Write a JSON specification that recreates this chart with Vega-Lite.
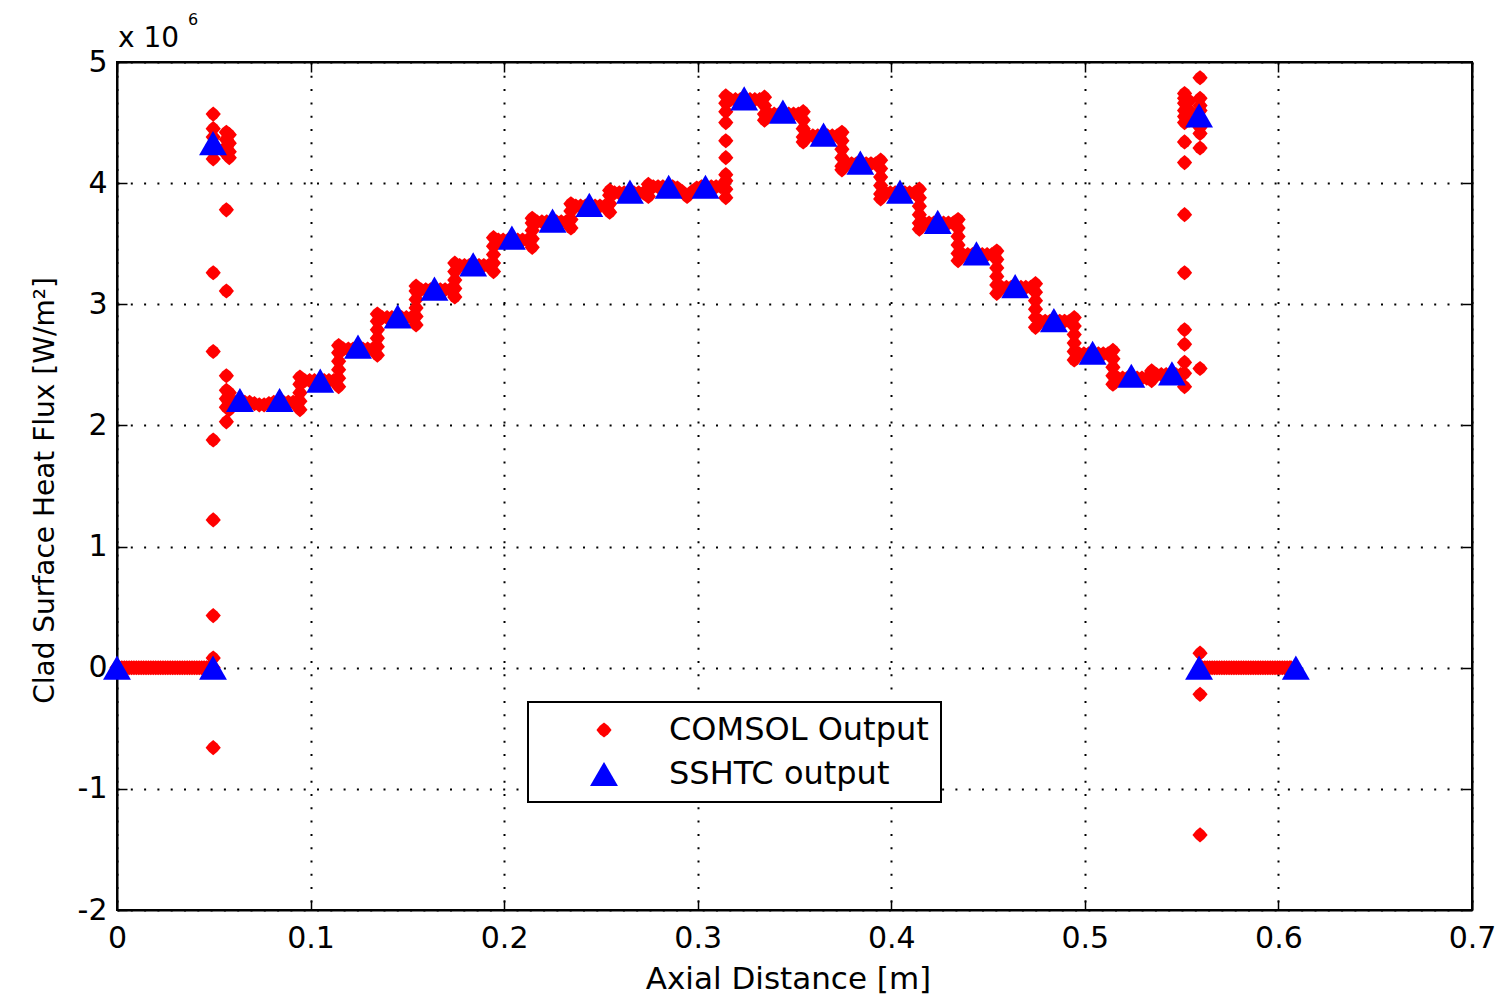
{
"$schema":"https://vega.github.io/schema/vega-lite/v6.json",
"width":1355,"height":848,
"autosize":{"type":"none"},
"padding":{"left":117,"top":62,"right":27,"bottom":85},
"background":"white",
"config":{
 "view":{"stroke":"black","strokeWidth":2},
 "font":"DejaVu Sans",
 "axis":{"domainColor":"black","domainWidth":2,"tickColor":"black","tickWidth":1.5,"tickSize":-10,"labelColor":"black","labelFont":"DejaVu Sans","labelFontSize":30,"labelFlush":false,"labelOverlap":false,"titleFont":"DejaVu Sans","titleFontWeight":"normal","titleColor":"black","gridColor":"black","gridWidth":2,"gridDash":[2,11.3],"gridOpacity":1},
 "legend":{"orient":"none","legendX":411,"legendY":640,"strokeColor":"black","strokeWidth":2,"fillColor":"white","padding":12,"labelFont":"DejaVu Sans","labelFontSize":32,"labelColor":"black","labelLimit":500,"symbolOffset":48,"labelOffset":49,"rowPadding":12,"symbolStrokeWidth":0}
},
"data":{"values":[
{"s":"C","x":0,"y":0},{"s":"C","x":0.0025,"y":0},{"s":"C","x":0.005,"y":0},{"s":"C","x":0.0075,"y":0},{"s":"C","x":0.01,"y":0},{"s":"C","x":0.0125,"y":0},{"s":"C","x":0.015,"y":0},{"s":"C","x":0.0175,"y":0},{"s":"C","x":0.02,"y":0},{"s":"C","x":0.0225,"y":0},{"s":"C","x":0.025,"y":0},{"s":"C","x":0.0275,"y":0},{"s":"C","x":0.03,"y":0},{"s":"C","x":0.0325,"y":0},{"s":"C","x":0.035,"y":0},{"s":"C","x":0.0375,"y":0},{"s":"C","x":0.04,"y":0},{"s":"C","x":0.0425,"y":0},{"s":"C","x":0.045,"y":0},{"s":"C","x":0.0475,"y":0},
{"s":"C","x":0.00125,"y":0},{"s":"C","x":0.00375,"y":0},{"s":"C","x":0.00625,"y":0},{"s":"C","x":0.00875,"y":0},{"s":"C","x":0.01125,"y":0},{"s":"C","x":0.01375,"y":0},{"s":"C","x":0.01625,"y":0},{"s":"C","x":0.01875,"y":0},{"s":"C","x":0.02125,"y":0},{"s":"C","x":0.02375,"y":0},{"s":"C","x":0.02625,"y":0},{"s":"C","x":0.02875,"y":0},{"s":"C","x":0.03125,"y":0},{"s":"C","x":0.03375,"y":0},{"s":"C","x":0.03625,"y":0},{"s":"C","x":0.03875,"y":0},{"s":"C","x":0.04125,"y":0},{"s":"C","x":0.04375,"y":0},{"s":"C","x":0.04625,"y":0},{"s":"C","x":0.04875,"y":0},
{"s":"C","x":0.0497,"y":4.57},{"s":"C","x":0.0497,"y":4.45},{"s":"C","x":0.0497,"y":4.38},{"s":"C","x":0.0497,"y":4.32},{"s":"C","x":0.0497,"y":4.27},{"s":"C","x":0.0497,"y":4.2},{"s":"C","x":0.0497,"y":3.26},{"s":"C","x":0.0497,"y":2.61},{"s":"C","x":0.0497,"y":1.88},{"s":"C","x":0.0497,"y":1.22},{"s":"C","x":0.0497,"y":0.43},{"s":"C","x":0.0497,"y":0.08},{"s":"C","x":0.0497,"y":0},{"s":"C","x":0.0497,"y":-0.66},
{"s":"C","x":0.0565,"y":4.42},{"s":"C","x":0.0565,"y":4.36},{"s":"C","x":0.0565,"y":4.3},{"s":"C","x":0.0565,"y":4.24},{"s":"C","x":0.0565,"y":3.78},{"s":"C","x":0.0565,"y":3.11},{"s":"C","x":0.0565,"y":2.41},{"s":"C","x":0.0565,"y":2.29},{"s":"C","x":0.0565,"y":2.22},{"s":"C","x":0.0565,"y":2.15},{"s":"C","x":0.0565,"y":2.03},
{"s":"C","x":0.058,"y":4.4},{"s":"C","x":0.058,"y":4.33},{"s":"C","x":0.058,"y":4.26},{"s":"C","x":0.058,"y":4.21},{"s":"C","x":0.058,"y":2.27},{"s":"C","x":0.058,"y":2.19},{"s":"C","x":0.058,"y":2.13},
{"s":"C","x":0.061,"y":2.19},{"s":"C","x":0.0635,"y":2.19},{"s":"C","x":0.066,"y":2.19},{"s":"C","x":0.0685,"y":2.19},{"s":"C","x":0.071,"y":2.18},{"s":"C","x":0.0735,"y":2.17},{"s":"C","x":0.076,"y":2.17},{"s":"C","x":0.0785,"y":2.18},{"s":"C","x":0.081,"y":2.19},{"s":"C","x":0.0835,"y":2.19},{"s":"C","x":0.086,"y":2.19},{"s":"C","x":0.0885,"y":2.19},{"s":"C","x":0.091,"y":2.19},{"s":"C","x":0.0925,"y":2.19},
{"s":"C","x":0.0945,"y":2.13},{"s":"C","x":0.0945,"y":2.2},{"s":"C","x":0.0945,"y":2.27},{"s":"C","x":0.0945,"y":2.34},{"s":"C","x":0.0945,"y":2.4},
{"s":"C","x":0.097,"y":2.37},{"s":"C","x":0.0995,"y":2.37},{"s":"C","x":0.102,"y":2.37},{"s":"C","x":0.1045,"y":2.37},{"s":"C","x":0.107,"y":2.37},{"s":"C","x":0.1095,"y":2.37},{"s":"C","x":0.112,"y":2.37},
{"s":"C","x":0.1145,"y":2.32},{"s":"C","x":0.1145,"y":2.39},{"s":"C","x":0.1145,"y":2.46},{"s":"C","x":0.1145,"y":2.53},{"s":"C","x":0.1145,"y":2.6},{"s":"C","x":0.1145,"y":2.66},
{"s":"C","x":0.117,"y":2.63},{"s":"C","x":0.1195,"y":2.63},{"s":"C","x":0.122,"y":2.63},{"s":"C","x":0.1245,"y":2.63},{"s":"C","x":0.127,"y":2.63},{"s":"C","x":0.1295,"y":2.63},{"s":"C","x":0.132,"y":2.63},
{"s":"C","x":0.1345,"y":2.58},{"s":"C","x":0.1345,"y":2.65},{"s":"C","x":0.1345,"y":2.72},{"s":"C","x":0.1345,"y":2.79},{"s":"C","x":0.1345,"y":2.86},{"s":"C","x":0.1345,"y":2.92},
{"s":"C","x":0.137,"y":2.89},{"s":"C","x":0.1395,"y":2.89},{"s":"C","x":0.142,"y":2.89},{"s":"C","x":0.1445,"y":2.89},{"s":"C","x":0.147,"y":2.89},{"s":"C","x":0.1495,"y":2.89},{"s":"C","x":0.152,"y":2.89},
{"s":"C","x":0.1545,"y":2.83},{"s":"C","x":0.1545,"y":2.9},{"s":"C","x":0.1545,"y":2.97},{"s":"C","x":0.1545,"y":3.04},{"s":"C","x":0.1545,"y":3.11},{"s":"C","x":0.1545,"y":3.15},
{"s":"C","x":0.157,"y":3.12},{"s":"C","x":0.1595,"y":3.12},{"s":"C","x":0.162,"y":3.12},{"s":"C","x":0.1645,"y":3.12},{"s":"C","x":0.167,"y":3.12},{"s":"C","x":0.1695,"y":3.12},{"s":"C","x":0.172,"y":3.12},
{"s":"C","x":0.1745,"y":3.06},{"s":"C","x":0.1745,"y":3.13},{"s":"C","x":0.1745,"y":3.2},{"s":"C","x":0.1745,"y":3.27},{"s":"C","x":0.1745,"y":3.34},
{"s":"C","x":0.177,"y":3.32},{"s":"C","x":0.1795,"y":3.32},{"s":"C","x":0.182,"y":3.32},{"s":"C","x":0.1845,"y":3.32},{"s":"C","x":0.187,"y":3.32},{"s":"C","x":0.1895,"y":3.32},{"s":"C","x":0.192,"y":3.32},
{"s":"C","x":0.1945,"y":3.27},{"s":"C","x":0.1945,"y":3.34},{"s":"C","x":0.1945,"y":3.41},{"s":"C","x":0.1945,"y":3.48},{"s":"C","x":0.1945,"y":3.55},
{"s":"C","x":0.197,"y":3.53},{"s":"C","x":0.1995,"y":3.53},{"s":"C","x":0.202,"y":3.53},{"s":"C","x":0.2045,"y":3.53},{"s":"C","x":0.207,"y":3.53},{"s":"C","x":0.2095,"y":3.53},{"s":"C","x":0.212,"y":3.53},
{"s":"C","x":0.2145,"y":3.47},{"s":"C","x":0.2145,"y":3.54},{"s":"C","x":0.2145,"y":3.61},{"s":"C","x":0.2145,"y":3.67},{"s":"C","x":0.2145,"y":3.71},
{"s":"C","x":0.217,"y":3.68},{"s":"C","x":0.2195,"y":3.68},{"s":"C","x":0.222,"y":3.68},{"s":"C","x":0.2245,"y":3.68},{"s":"C","x":0.227,"y":3.68},{"s":"C","x":0.2295,"y":3.68},{"s":"C","x":0.232,"y":3.68},
{"s":"C","x":0.2345,"y":3.63},{"s":"C","x":0.2345,"y":3.7},{"s":"C","x":0.2345,"y":3.77},{"s":"C","x":0.2345,"y":3.83},
{"s":"C","x":0.237,"y":3.81},{"s":"C","x":0.2395,"y":3.81},{"s":"C","x":0.242,"y":3.81},{"s":"C","x":0.2445,"y":3.81},{"s":"C","x":0.247,"y":3.81},{"s":"C","x":0.2495,"y":3.81},{"s":"C","x":0.252,"y":3.81},
{"s":"C","x":0.2545,"y":3.76},{"s":"C","x":0.2545,"y":3.83},{"s":"C","x":0.2545,"y":3.9},{"s":"C","x":0.2545,"y":3.94},
{"s":"C","x":0.257,"y":3.92},{"s":"C","x":0.2595,"y":3.92},{"s":"C","x":0.262,"y":3.92},{"s":"C","x":0.2645,"y":3.92},{"s":"C","x":0.267,"y":3.92},{"s":"C","x":0.2695,"y":3.92},{"s":"C","x":0.272,"y":3.92},
{"s":"C","x":0.2745,"y":3.89},{"s":"C","x":0.2745,"y":3.95},{"s":"C","x":0.2745,"y":3.99},
{"s":"C","x":0.277,"y":3.97},{"s":"C","x":0.2795,"y":3.97},{"s":"C","x":0.282,"y":3.97},{"s":"C","x":0.2845,"y":3.97},{"s":"C","x":0.287,"y":3.97},{"s":"C","x":0.2895,"y":3.96},{"s":"C","x":0.292,"y":3.93},{"s":"C","x":0.2945,"y":3.89},{"s":"C","x":0.297,"y":3.93},{"s":"C","x":0.2995,"y":3.96},{"s":"C","x":0.302,"y":3.97},{"s":"C","x":0.3045,"y":3.97},{"s":"C","x":0.307,"y":3.97},{"s":"C","x":0.3095,"y":3.97},{"s":"C","x":0.312,"y":3.97},
{"s":"C","x":0.3145,"y":3.88},{"s":"C","x":0.3145,"y":3.95},{"s":"C","x":0.3145,"y":4.02},{"s":"C","x":0.3145,"y":4.07},{"s":"C","x":0.3145,"y":4.21},{"s":"C","x":0.3145,"y":4.35},{"s":"C","x":0.3145,"y":4.5},{"s":"C","x":0.3145,"y":4.59},{"s":"C","x":0.3145,"y":4.66},{"s":"C","x":0.3145,"y":4.72},
{"s":"C","x":0.317,"y":4.69},{"s":"C","x":0.3195,"y":4.69},{"s":"C","x":0.322,"y":4.69},{"s":"C","x":0.3245,"y":4.69},{"s":"C","x":0.327,"y":4.69},{"s":"C","x":0.3295,"y":4.69},{"s":"C","x":0.332,"y":4.69},
{"s":"C","x":0.3345,"y":4.71},{"s":"C","x":0.3345,"y":4.64},{"s":"C","x":0.3345,"y":4.57},{"s":"C","x":0.3345,"y":4.52},
{"s":"C","x":0.337,"y":4.57},{"s":"C","x":0.3395,"y":4.57},{"s":"C","x":0.342,"y":4.57},{"s":"C","x":0.3445,"y":4.57},{"s":"C","x":0.347,"y":4.57},{"s":"C","x":0.3495,"y":4.57},{"s":"C","x":0.352,"y":4.57},
{"s":"C","x":0.3545,"y":4.59},{"s":"C","x":0.3545,"y":4.52},{"s":"C","x":0.3545,"y":4.45},{"s":"C","x":0.3545,"y":4.38},{"s":"C","x":0.3545,"y":4.34},
{"s":"C","x":0.357,"y":4.39},{"s":"C","x":0.3595,"y":4.39},{"s":"C","x":0.362,"y":4.39},{"s":"C","x":0.3645,"y":4.39},{"s":"C","x":0.367,"y":4.39},{"s":"C","x":0.3695,"y":4.39},{"s":"C","x":0.372,"y":4.39},
{"s":"C","x":0.3745,"y":4.42},{"s":"C","x":0.3745,"y":4.35},{"s":"C","x":0.3745,"y":4.28},{"s":"C","x":0.3745,"y":4.21},{"s":"C","x":0.3745,"y":4.14},{"s":"C","x":0.3745,"y":4.11},
{"s":"C","x":0.377,"y":4.16},{"s":"C","x":0.3795,"y":4.16},{"s":"C","x":0.382,"y":4.16},{"s":"C","x":0.3845,"y":4.16},{"s":"C","x":0.387,"y":4.16},{"s":"C","x":0.3895,"y":4.16},{"s":"C","x":0.392,"y":4.16},
{"s":"C","x":0.3945,"y":4.19},{"s":"C","x":0.3945,"y":4.12},{"s":"C","x":0.3945,"y":4.05},{"s":"C","x":0.3945,"y":3.98},{"s":"C","x":0.3945,"y":3.91},{"s":"C","x":0.3945,"y":3.87},
{"s":"C","x":0.397,"y":3.92},{"s":"C","x":0.3995,"y":3.92},{"s":"C","x":0.402,"y":3.92},{"s":"C","x":0.4045,"y":3.92},{"s":"C","x":0.407,"y":3.92},{"s":"C","x":0.4095,"y":3.92},{"s":"C","x":0.412,"y":3.92},
{"s":"C","x":0.4145,"y":3.95},{"s":"C","x":0.4145,"y":3.88},{"s":"C","x":0.4145,"y":3.81},{"s":"C","x":0.4145,"y":3.74},{"s":"C","x":0.4145,"y":3.67},{"s":"C","x":0.4145,"y":3.62},
{"s":"C","x":0.417,"y":3.67},{"s":"C","x":0.4195,"y":3.67},{"s":"C","x":0.422,"y":3.67},{"s":"C","x":0.4245,"y":3.67},{"s":"C","x":0.427,"y":3.67},{"s":"C","x":0.4295,"y":3.67},{"s":"C","x":0.432,"y":3.67},
{"s":"C","x":0.4345,"y":3.7},{"s":"C","x":0.4345,"y":3.63},{"s":"C","x":0.4345,"y":3.56},{"s":"C","x":0.4345,"y":3.49},{"s":"C","x":0.4345,"y":3.42},{"s":"C","x":0.4345,"y":3.36},
{"s":"C","x":0.437,"y":3.41},{"s":"C","x":0.4395,"y":3.41},{"s":"C","x":0.442,"y":3.41},{"s":"C","x":0.4445,"y":3.41},{"s":"C","x":0.447,"y":3.41},{"s":"C","x":0.4495,"y":3.41},{"s":"C","x":0.452,"y":3.41},
{"s":"C","x":0.4545,"y":3.44},{"s":"C","x":0.4545,"y":3.37},{"s":"C","x":0.4545,"y":3.3},{"s":"C","x":0.4545,"y":3.23},{"s":"C","x":0.4545,"y":3.16},{"s":"C","x":0.4545,"y":3.09},
{"s":"C","x":0.457,"y":3.14},{"s":"C","x":0.4595,"y":3.14},{"s":"C","x":0.462,"y":3.14},{"s":"C","x":0.4645,"y":3.14},{"s":"C","x":0.467,"y":3.14},{"s":"C","x":0.4695,"y":3.14},{"s":"C","x":0.472,"y":3.14},
{"s":"C","x":0.4745,"y":3.17},{"s":"C","x":0.4745,"y":3.1},{"s":"C","x":0.4745,"y":3.03},{"s":"C","x":0.4745,"y":2.96},{"s":"C","x":0.4745,"y":2.89},{"s":"C","x":0.4745,"y":2.81},
{"s":"C","x":0.477,"y":2.86},{"s":"C","x":0.4795,"y":2.86},{"s":"C","x":0.482,"y":2.86},{"s":"C","x":0.4845,"y":2.86},{"s":"C","x":0.487,"y":2.86},{"s":"C","x":0.4895,"y":2.86},{"s":"C","x":0.492,"y":2.86},
{"s":"C","x":0.4945,"y":2.89},{"s":"C","x":0.4945,"y":2.82},{"s":"C","x":0.4945,"y":2.75},{"s":"C","x":0.4945,"y":2.68},{"s":"C","x":0.4945,"y":2.61},{"s":"C","x":0.4945,"y":2.54},
{"s":"C","x":0.497,"y":2.59},{"s":"C","x":0.4995,"y":2.59},{"s":"C","x":0.502,"y":2.59},{"s":"C","x":0.5045,"y":2.59},{"s":"C","x":0.507,"y":2.59},{"s":"C","x":0.5095,"y":2.59},{"s":"C","x":0.512,"y":2.59},
{"s":"C","x":0.5145,"y":2.62},{"s":"C","x":0.5145,"y":2.55},{"s":"C","x":0.5145,"y":2.48},{"s":"C","x":0.5145,"y":2.41},{"s":"C","x":0.5145,"y":2.34},
{"s":"C","x":0.517,"y":2.39},{"s":"C","x":0.5195,"y":2.39},{"s":"C","x":0.522,"y":2.39},{"s":"C","x":0.5245,"y":2.39},{"s":"C","x":0.527,"y":2.39},{"s":"C","x":0.5295,"y":2.39},{"s":"C","x":0.532,"y":2.39},
{"s":"C","x":0.5345,"y":2.37},{"s":"C","x":0.5345,"y":2.42},{"s":"C","x":0.5345,"y":2.45},
{"s":"C","x":0.537,"y":2.42},{"s":"C","x":0.5395,"y":2.42},{"s":"C","x":0.542,"y":2.42},{"s":"C","x":0.5445,"y":2.42},{"s":"C","x":0.547,"y":2.42},{"s":"C","x":0.5495,"y":2.42},
{"s":"C","x":0.5515,"y":4.74},{"s":"C","x":0.5515,"y":4.7},{"s":"C","x":0.5515,"y":4.66},{"s":"C","x":0.5515,"y":4.6},{"s":"C","x":0.5515,"y":4.55},{"s":"C","x":0.5515,"y":4.5},{"s":"C","x":0.5515,"y":4.34},{"s":"C","x":0.5515,"y":4.17},{"s":"C","x":0.5515,"y":3.74},{"s":"C","x":0.5515,"y":3.26},{"s":"C","x":0.5515,"y":2.79},{"s":"C","x":0.5515,"y":2.67},{"s":"C","x":0.5515,"y":2.52},{"s":"C","x":0.5515,"y":2.43},{"s":"C","x":0.5515,"y":2.32},
{"s":"C","x":0.5538,"y":4.68},{"s":"C","x":0.5538,"y":4.6},{"s":"C","x":0.5538,"y":4.52},
{"s":"C","x":0.5595,"y":4.87},{"s":"C","x":0.5595,"y":4.7},{"s":"C","x":0.5595,"y":4.64},{"s":"C","x":0.5595,"y":4.6},{"s":"C","x":0.5595,"y":4.46},{"s":"C","x":0.5595,"y":4.41},{"s":"C","x":0.5595,"y":4.29},{"s":"C","x":0.5595,"y":2.47},{"s":"C","x":0.5595,"y":0.12},{"s":"C","x":0.5595,"y":0},{"s":"C","x":0.5595,"y":-0.22},{"s":"C","x":0.5595,"y":-1.38},
{"s":"C","x":0.562,"y":0},{"s":"C","x":0.5645,"y":0},{"s":"C","x":0.567,"y":0},{"s":"C","x":0.5695,"y":0},{"s":"C","x":0.572,"y":0},{"s":"C","x":0.5745,"y":0},{"s":"C","x":0.577,"y":0},{"s":"C","x":0.5795,"y":0},{"s":"C","x":0.582,"y":0},{"s":"C","x":0.5845,"y":0},{"s":"C","x":0.587,"y":0},{"s":"C","x":0.5895,"y":0},{"s":"C","x":0.592,"y":0},{"s":"C","x":0.5945,"y":0},{"s":"C","x":0.597,"y":0},{"s":"C","x":0.5995,"y":0},{"s":"C","x":0.602,"y":0},{"s":"C","x":0.6045,"y":0},{"s":"C","x":0.6065,"y":0},
{"s":"C","x":0.56075,"y":0},{"s":"C","x":0.56325,"y":0},{"s":"C","x":0.56575,"y":0},{"s":"C","x":0.56825,"y":0},{"s":"C","x":0.57075,"y":0},{"s":"C","x":0.57325,"y":0},{"s":"C","x":0.57575,"y":0},{"s":"C","x":0.57825,"y":0},{"s":"C","x":0.58075,"y":0},{"s":"C","x":0.58325,"y":0},{"s":"C","x":0.58575,"y":0},{"s":"C","x":0.58825,"y":0},{"s":"C","x":0.59075,"y":0},{"s":"C","x":0.59325,"y":0},{"s":"C","x":0.59575,"y":0},{"s":"C","x":0.59825,"y":0},{"s":"C","x":0.60075,"y":0},{"s":"C","x":0.60325,"y":0},{"s":"C","x":0.60575,"y":0},
{"s":"S","x":0,"y":0},{"s":"S","x":0.0496,"y":0},{"s":"S","x":0.0496,"y":4.33},{"s":"S","x":0.0635,"y":2.21},{"s":"S","x":0.084,"y":2.21},{"s":"S","x":0.105,"y":2.37},{"s":"S","x":0.1245,"y":2.65},{"s":"S","x":0.145,"y":2.9},{"s":"S","x":0.164,"y":3.13},{"s":"S","x":0.184,"y":3.33},{"s":"S","x":0.204,"y":3.55},{"s":"S","x":0.225,"y":3.69},{"s":"S","x":0.244,"y":3.82},{"s":"S","x":0.265,"y":3.93},{"s":"S","x":0.285,"y":3.97},{"s":"S","x":0.304,"y":3.97},{"s":"S","x":0.324,"y":4.7},{"s":"S","x":0.344,"y":4.59},{"s":"S","x":0.365,"y":4.4},{"s":"S","x":0.384,"y":4.17},{"s":"S","x":0.4045,"y":3.93},{"s":"S","x":0.424,"y":3.68},{"s":"S","x":0.444,"y":3.42},{"s":"S","x":0.464,"y":3.15},{"s":"S","x":0.484,"y":2.87},{"s":"S","x":0.504,"y":2.6},{"s":"S","x":0.524,"y":2.41},{"s":"S","x":0.545,"y":2.43},{"s":"S","x":0.559,"y":4.56},{"s":"S","x":0.559,"y":0},{"s":"S","x":0.609,"y":0}
]},
"layer":[
 {"mark":{"type":"point","filled":true,"opacity":1,"strokeWidth":0},
  "encoding":{
   "x":{"field":"x","type":"quantitative","scale":{"domain":[0,0.7],"nice":false,"zero":false},
        "axis":{"orient":"bottom","values":[0,0.1,0.2,0.3,0.4,0.5,0.6,0.7],"format":"~g","labelPadding":23,"grid":true,"title":"Axial Distance [m]","titleFontSize":31,"titleX":671,"titleY":78,"titleBaseline":"alphabetic","titleAlign":"center"}},
   "y":{"field":"y","type":"quantitative","scale":{"domain":[-2,5],"nice":false,"zero":false},
        "axis":{"orient":"left","values":[-2,-1,0,1,2,3,4,5],"labelExpr":"datum.value < 0 ? '-' + abs(datum.value) : '' + datum.value","labelPadding":20,"grid":true,"title":"Clad Surface Heat Flux [W/m²]","titleFontSize":28,"titleAngle":270,"titleX":-64,"titleY":428,"titleAlign":"center","titleBaseline":"alphabetic"}},
   "color":{"field":"s","type":"nominal","scale":{"domain":["C","S"],"range":["#ff0000","#0000ff"]},"legend":{"title":null,"labelExpr":"datum.label == 'C' ? 'COMSOL Output' : 'SSHTC output'"}},
   "shape":{"field":"s","type":"nominal","scale":{"domain":["C","S"],"range":["M0,-1L0.55,-0.55L1,0L0.55,0.55L0,1L-0.55,0.55L-1,0L-0.55,-0.55Z","triangle-up"]},"legend":{"title":null,"labelExpr":"datum.label == 'C' ? 'COMSOL Output' : 'SSHTC output'"}},
   "size":{"field":"s","type":"nominal","scale":{"domain":["C","S"],"range":[230,780]},"legend":{"title":null,"labelExpr":"datum.label == 'C' ? 'COMSOL Output' : 'SSHTC output'"}}
  }},
 {"mark":{"type":"point","opacity":0},
  "encoding":{
   "x":{"field":"x","type":"quantitative","axis":{"orient":"top","values":[0,0.1,0.2,0.3,0.4,0.5,0.6,0.7],"labels":false,"grid":false,"title":null}},
   "y":{"field":"y","type":"quantitative","axis":{"orient":"right","values":[-2,-1,0,1,2,3,4,5],"labels":false,"grid":false,"title":null}}
  }},
 {"data":{"values":[{"label":"x 10"}]},
  "mark":{"type":"text","align":"left","baseline":"alphabetic","dx":1,"dy":-15,"font":"DejaVu Sans","fontSize":28,"color":"black"},
  "encoding":{"x":{"datum":0,"type":"quantitative","axis":null},"y":{"datum":5,"type":"quantitative","axis":null},"text":{"field":"label"}}},
 {"data":{"values":[{"label":"6"}]},
  "mark":{"type":"text","align":"left","baseline":"alphabetic","dx":71,"dy":-37,"font":"DejaVu Sans","fontSize":16,"color":"black"},
  "encoding":{"x":{"datum":0,"type":"quantitative","axis":null},"y":{"datum":5,"type":"quantitative","axis":null},"text":{"field":"label"}}}
],
"resolve":{"axis":{"x":"independent","y":"independent"}}
}
